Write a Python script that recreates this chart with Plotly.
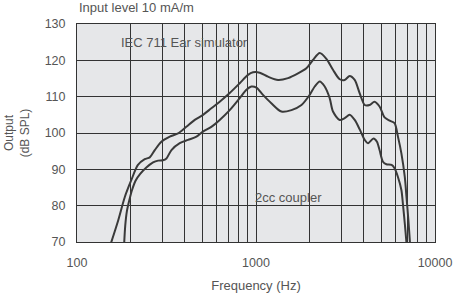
import plotly.graph_objects as go

# IEC 711 Ear simulator (upper curve)
freq_ear = [152, 170, 185, 201, 219, 239, 255, 272, 296, 330, 367, 408, 455, 506, 563, 627,
            713, 811, 902, 962, 1049, 1167, 1328, 1510, 1717, 1912, 2080, 2270, 2473, 2692,
            2934, 3129, 3336, 3559, 3797, 4049, 4309, 4594, 4900, 5227, 5572, 5943, 6208,
            6490, 6780, 6930, 7100, 7250, 7300]
spl_ear = [68.5, 76, 82.4, 87, 91.2, 92.8, 93.3, 95.3, 97.6, 99, 99.9, 101.7, 103.6, 105, 106.8, 108.6,
           111, 113.7, 116, 116.7, 116.6, 115.5, 114.6, 115.1, 116.4, 117.8, 120.1, 122, 120.4, 117.4,
           114.8, 114.6, 115.7, 114.6, 110.9, 107.7, 107.7, 108.6, 107.3, 104.3, 103.4, 102.7, 99,
           94.4, 87.9, 82.4, 76, 69.7, 68]

# 2cc coupler (lower curve)
freq_cc = [183, 186, 190, 196, 203, 212, 226, 244, 266, 284, 302, 316, 337, 375, 417, 465, 506, 563, 627,
           713, 811, 884, 942, 1005, 1094, 1218, 1387, 1578, 1795, 1995, 2128, 2270, 2420, 2580,
           2692, 2934, 3129, 3336, 3559, 3797, 4049, 4222, 4532, 4740, 4900, 5120, 5350, 5720,
           5943, 6208, 6490, 6630, 6780, 6930, 6960]
spl_cc = [68.5, 74.5, 78.5, 81.5, 84.3, 86.8, 88.8, 90.5, 91.9, 92.4, 92.5, 93, 95.3, 97.2, 98.1, 99, 100.4, 101.7, 103.6,
          106.3, 109.6, 111.9, 112.8, 112.5, 110.5, 108.2, 105.9, 106.3, 107.7, 110.5, 112.8, 114.2, 112.8, 109.6,
          105.9, 103.6, 104.1, 105, 103.6, 101, 98.1, 97.2, 98.5, 97.6, 95.3, 92.1, 91.4, 91.2,
          90.3, 87.9, 84.3, 80.1, 75.1, 69.7, 68]

x_tick_vals = [100, 1000, 10000]
x_tick_text = ["100", "1000", "10000"]
x_minor_vals = [m * d for d in (100, 1000) for m in range(2, 10)]
y_tick_vals = [70, 80, 90, 100, 110, 120, 130]

line_col = "#3a3a3a"
grid_col = "#333333"
text_col = "#555555"
font_fam = "Liberation Sans, Arial, sans-serif"
txt_size = 13
tick_size = 12.5

fig = go.Figure()
fig.add_trace(go.Scatter(x=freq_ear, y=spl_ear, mode="lines",
                         line=dict(color=line_col, width=2, shape="spline", smoothing=0.8),
                         showlegend=False, hoverinfo="skip"))
fig.add_trace(go.Scatter(x=freq_cc, y=spl_cc, mode="lines",
                         line=dict(color=line_col, width=2, shape="spline", smoothing=0.8),
                         showlegend=False, hoverinfo="skip"))

fig.update_layout(
    width=461, height=298,
    margin=dict(l=77, r=26, t=24, b=56, autoexpand=False),
    paper_bgcolor="white",
    plot_bgcolor="#e6e7e9",
    font=dict(family=font_fam, size=txt_size, color=text_col),
    xaxis=dict(
        type="log", range=[2, 4], automargin=False,
        tickmode="array", tickvals=x_tick_vals, ticktext=x_tick_text,
        showgrid=True, gridcolor=grid_col, gridwidth=1,
        minor=dict(tickmode="array", tickvals=x_minor_vals, showgrid=True,
                   gridcolor=grid_col, gridwidth=1, ticks=""),
        showline=True, linecolor=grid_col, linewidth=1, mirror=True,
        ticks="", ticklabelstandoff=9,
        zeroline=False,
        title=dict(text="Frequency (Hz)", standoff=11, font=dict(size=txt_size, color=text_col)),
        tickfont=dict(size=tick_size, color=text_col),
    ),
    yaxis=dict(
        range=[70, 130], automargin=False,
        tickmode="array", tickvals=y_tick_vals,
        showgrid=True, gridcolor=grid_col, gridwidth=1,
        showline=True, linecolor=grid_col, linewidth=1, mirror=True,
        ticks="", ticklabelstandoff=8,
        zeroline=False,
        title=dict(text="Output<br>(dB SPL)", standoff=12, font=dict(size=12, color=text_col)),
        tickfont=dict(size=tick_size, color=text_col),
    ),
    annotations=[
        dict(text="Input level 10 mA/m", xref="paper", yref="paper", x=0, y=1,
             xanchor="left", yanchor="middle", yshift=17, showarrow=False,
             font=dict(size=txt_size, color=text_col)),
        dict(text="IEC 711 Ear simulator", xref="x", yref="y", x=2.233, y=124.8,
             xanchor="left", yanchor="middle", showarrow=False,
             font=dict(size=txt_size, color=text_col)),
        dict(text="2cc coupler", xref="x", yref="y", x=2.983, y=82.2,
             xanchor="left", yanchor="middle", showarrow=False,
             font=dict(size=txt_size, color=text_col)),
    ],
)

fig.write_html("out.html", config={"displayModeBar": False},
               post_script="document.body.style.margin='0';document.body.style.padding='0';")
